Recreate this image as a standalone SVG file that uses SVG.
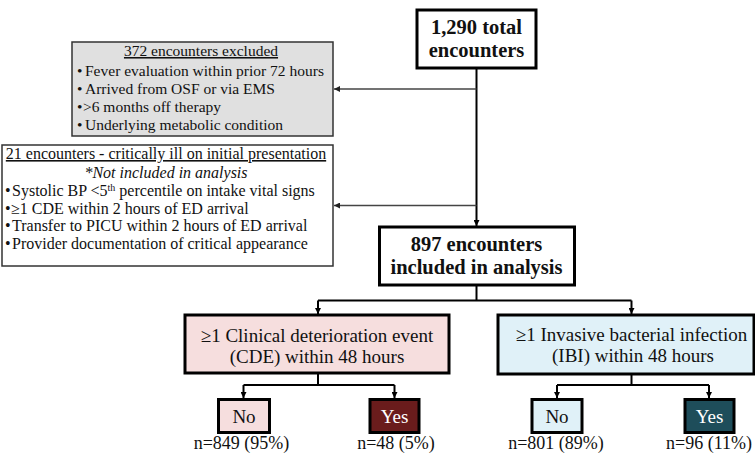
<svg xmlns="http://www.w3.org/2000/svg" width="755" height="454" viewBox="0 0 755 454">
<defs>
<marker id="ah" viewBox="0 0 10 10" refX="10" refY="5" markerWidth="6" markerHeight="6" orient="auto" markerUnits="userSpaceOnUse"><path d="M0,0 L10,5 L0,10 z" fill="#000"/></marker>
<marker id="ah2" viewBox="0 0 10 10" refX="10" refY="5" markerWidth="6" markerHeight="6" orient="auto" markerUnits="userSpaceOnUse"><path d="M0,0 L10,5 L0,10 z" fill="#222"/></marker>
</defs>
<style>
text{font-family:'Liberation Serif','DejaVu Serif','Times New Roman',serif;fill:#111}
.b{font-weight:bold;font-size:20.5px}
.l{font-size:15.5px}
.k{font-size:16px}
.m{font-size:19px}
.n{font-size:18px}
.main{stroke:#000;stroke-width:3}
.thin{stroke:#444;stroke-width:1.5;fill:none}
.c{stroke:#000;stroke-width:2;fill:none}
.w{fill:#fff}
</style>
<rect width="755" height="454" fill="#fff"/>
<g id="connectors">
<line class="c" x1="476.5" y1="68" x2="476.5" y2="226" marker-end="url(#ah)"/>
<line class="thin" x1="476.5" y1="89" x2="334" y2="89" marker-end="url(#ah2)"/>
<line class="thin" x1="476.5" y1="205.5" x2="334" y2="205.5" marker-end="url(#ah2)"/>
<polyline class="c" points="476.5,285 476.5,300.5"/>
<polyline class="c" points="318,300.5 631.5,300.5"/>
<line class="c" x1="318" y1="300.5" x2="318" y2="314" marker-end="url(#ah)"/>
<line class="c" x1="631.5" y1="300.5" x2="631.5" y2="314" marker-end="url(#ah)"/>
<polyline class="c" points="318,373 318,385"/>
<polyline class="c" points="243.5,385 394.5,385"/>
<line class="c" x1="243.5" y1="385" x2="243.5" y2="398" marker-end="url(#ah)"/>
<line class="c" x1="394.5" y1="385" x2="394.5" y2="398" marker-end="url(#ah)"/>
<polyline class="c" points="631.5,374 631.5,385"/>
<polyline class="c" points="557,385 709,385"/>
<line class="c" x1="557" y1="385" x2="557" y2="398" marker-end="url(#ah)"/>
<line class="c" x1="709" y1="385" x2="709" y2="398" marker-end="url(#ah)"/>
</g>
<g id="total">
<rect class="main" x="417" y="10" width="119" height="58" fill="#fff"/>
<text class="b" x="476.5" y="33.5" text-anchor="middle">1,290 total</text>
<text class="b" x="476.5" y="57" text-anchor="middle">encounters</text>
</g>
<g id="excluded">
<rect x="72" y="42" width="261" height="94" fill="#e0e0e0" stroke="#333" stroke-width="1.5"/>
<text class="l" x="201" y="56" text-anchor="middle" text-decoration="underline">372 encounters excluded</text>
<text class="l" x="77" y="76">•<tspan x="85">Fever evaluation within prior 72 hours</tspan></text>
<text class="l" x="77" y="93.5">•<tspan x="85">Arrived from OSF or via EMS</tspan></text>
<text class="l" x="77" y="112">•<tspan x="83">&gt;6 months off therapy</tspan></text>
<text class="l" x="77" y="130">•<tspan x="85">Underlying metabolic condition</tspan></text>
</g>
<g id="critical">
<rect x="2" y="145" width="331" height="121" fill="#fff" stroke="#333" stroke-width="1.5"/>
<text class="k" x="166" y="159" text-anchor="middle" text-decoration="underline">21 encounters - critically ill on initial presentation</text>
<text class="k" x="166" y="177.5" text-anchor="middle" font-style="italic">*Not included in analysis</text>
<text class="k" x="5" y="196">•<tspan x="12">Systolic BP &lt;5<tspan font-size="10" dy="-5.5">th</tspan><tspan dy="5.5"> percentile on intake vital signs</tspan></tspan></text>
<text class="k" x="5" y="213.5">•<tspan x="11">≥1 CDE within 2 hours of ED arrival</tspan></text>
<text class="k" x="5" y="231">•<tspan x="12">Transfer to PICU within 2 hours of ED arrival</tspan></text>
<text class="k" x="5" y="248.5">•<tspan x="12">Provider documentation of critical appearance</tspan></text>
</g>
<g id="included">
<rect class="main" x="379.5" y="227" width="195" height="58" fill="#fff"/>
<text class="b" x="476.5" y="251" text-anchor="middle">897 encounters</text>
<text class="b" x="476.5" y="274" text-anchor="middle">included in analysis</text>
</g>
<g id="cde">
<rect class="main" x="185" y="315" width="264" height="58" fill="#f6dede"/>
<text class="m" x="317" y="341.5" text-anchor="middle">≥1 Clinical deterioration event</text>
<text class="m" x="317" y="363" text-anchor="middle">(CDE) within 48 hours</text>
</g>
<g id="ibi">
<rect class="main" x="498" y="315" width="256" height="59" fill="#e0f1f8"/>
<text class="m" x="631.5" y="340.5" text-anchor="middle">≥1 Invasive bacterial infection</text>
<text class="m" x="633" y="362" text-anchor="middle">(IBI) within 48 hours</text>
</g>
<g id="cde-no">
<rect class="main" x="218.5" y="399.5" width="51" height="33" fill="#f6dede"/>
<text class="m" x="244" y="423" text-anchor="middle">No</text>
<text class="n" x="241.5" y="449" text-anchor="middle">n=849 (95%)</text>
</g>
<g id="cde-yes">
<rect class="main" x="370" y="399.5" width="49" height="33" fill="#6a1c1c"/>
<text class="m w" x="394.5" y="423" text-anchor="middle">Yes</text>
<text class="n" x="396" y="449" text-anchor="middle">n=48 (5%)</text>
</g>
<g id="ibi-no">
<rect class="main" x="532" y="399.5" width="50" height="33" fill="#e0f1f8"/>
<text class="m" x="557" y="423" text-anchor="middle">No</text>
<text class="n" x="556" y="449" text-anchor="middle">n=801 (89%)</text>
</g>
<g id="ibi-yes">
<rect class="main" x="685" y="399.5" width="49" height="33" fill="#1e4d5a"/>
<text class="m w" x="709.5" y="423" text-anchor="middle">Yes</text>
<text class="n" x="709" y="449" text-anchor="middle">n=96 (11%)</text>
</g>
</svg>
